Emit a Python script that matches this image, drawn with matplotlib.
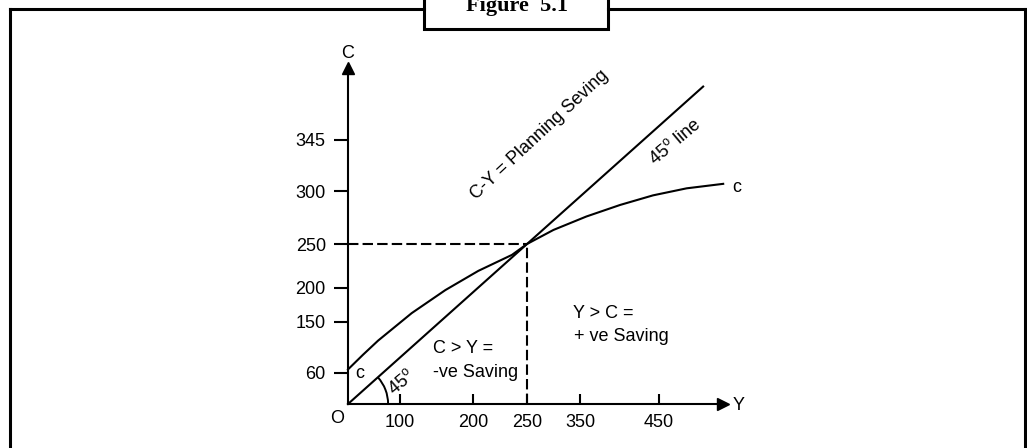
import numpy as np
import matplotlib
matplotlib.use("Agg")
import matplotlib.pyplot as plt
from matplotlib.patches import Arc, Rectangle
from matplotlib.lines import Line2D

plt.rcParams["font.family"] = ["Liberation Sans", "DejaVu Sans"]
plt.rcParams["mathtext.fontset"] = "custom"
plt.rcParams["mathtext.rm"] = "Liberation Sans"

# ---- data (schematic units: the equilibrium point sits at 250, 250) ----
x_tick_labels = ["100", "200", "250", "350", "450"]
y_tick_labels = ["60", "150", "200", "250", "300", "345"]
line45_x = [0, 496]
line45_y = [0, 496]
cons_x = [0, 21, 42, 89, 136, 182, 229, 250, 287, 333, 380, 426, 473, 524]
cons_y = [54, 77, 99, 142, 178, 208, 233, 250, 272, 293, 311, 326, 337, 344]
eq_x, eq_y = 250, 250

# ---- layout (tick positions as drawn in the schematic) ----
x_tick_pos = [72.6, 175, 250, 324, 434.4]
y_tick_pos = [48.9, 128.6, 181.8, 250, 332.8, 412.5]
X_END, Y_END = 524, 525
FS = 13

fig = plt.figure(figsize=(10.27, 4.48), dpi=100)
ax = fig.add_axes([0, 0, 1, 1])
ax.set_xlim(-486, 948.3)
ax.set_ylim(-68.75, 631.25)
ax.patch.set_alpha(0)

for side in ("top", "right"):
    ax.spines[side].set_visible(False)
ax.spines["left"].set_position(("data", 0))
ax.spines["bottom"].set_position(("data", 0))
ax.spines["left"].set_bounds(0, Y_END)
ax.spines["bottom"].set_bounds(0, X_END)
for side in ("left", "bottom"):
    ax.spines[side].set_linewidth(1.5)

ax.set_xticks(x_tick_pos, x_tick_labels)
ax.set_yticks(y_tick_pos, y_tick_labels)
ax.tick_params(axis="x", direction="in", length=7, width=1.5, pad=7, labelsize=FS)
ax.tick_params(axis="y", direction="out", length=10, width=1.5, pad=6, labelsize=FS)

# arrow heads on the axes
ax.plot(X_END, 0, marker=">", ms=9, color="black", clip_on=False)
ax.plot(0, Y_END, marker="^", ms=9, color="black", clip_on=False)
ax.text(0, 547, "C", ha="center", va="center", fontsize=FS)
ax.text(545, -3, "Y", ha="center", va="center", fontsize=FS)
ax.text(-15, -22, "O", ha="center", va="center", fontsize=FS)

# 45 degree line and consumption curve
ax.plot(line45_x, line45_y, color="black", lw=1.5)
ax.plot(cons_x, cons_y, color="black", lw=1.5)

# dashed guides to the equilibrium
ax.plot([0, eq_x], [eq_y, eq_y], color="black", lw=1.5, ls=(0, (5, 2)))
ax.plot([eq_x, eq_x], [0, eq_y], color="black", lw=1.5, ls=(0, (5, 2)))

# angle arc at the origin
ax.add_patch(Arc((0, 0), 112, 125, theta1=0, theta2=45, color="black", lw=1.4))

ax.text(17, 48, "c", ha="center", va="center", fontsize=FS)
ax.text(543, 339, "c", ha="center", va="center", fontsize=FS)
ax.text(268, 420, "C-Y = Planning Seving", rotation=43, ha="center", va="center", fontsize=FS)
ax.text(457, 409, r"45$^{\mathrm{o}}$ line", rotation=40, ha="center", va="center", fontsize=FS)
ax.text(75, 34, r"45$^{\mathrm{o}}$", rotation=40, ha="center", va="center", fontsize=FS)
ax.text(119, 86, "C > Y =", ha="left", va="center", fontsize=FS)
ax.text(119, 50, "-ve Saving", ha="left", va="center", fontsize=FS)
ax.text(314, 142, "Y > C =", ha="left", va="center", fontsize=FS)
ax.text(316, 106, "+ ve Saving", ha="left", va="center", fontsize=FS)

# page frame with the caption box
W, H = 1027, 448
frame = dict(color="black", lw=2.2, solid_capstyle="projecting")
fig.add_artist(Line2D([10 / W, 424 / W], [(H - 9) / H] * 2, **frame))
fig.add_artist(Line2D([608 / W, 1025 / W], [(H - 9) / H] * 2, **frame))
fig.add_artist(Line2D([10 / W] * 2, [0, (H - 9) / H], **frame))
fig.add_artist(Line2D([1025 / W] * 2, [0, (H - 9) / H], **frame))
fig.add_artist(Rectangle((424 / W, (H - 29) / H), 184 / W, 40 / H, facecolor="white",
                         edgecolor="black", lw=2.2, transform=fig.transFigure))
fig.text(517 / W, (H - 11.5) / H, "Figure  5.1", ha="center", va="baseline",
         fontsize=16, fontweight="bold", family="Liberation Serif")

fig.savefig("out.png", dpi=100)
